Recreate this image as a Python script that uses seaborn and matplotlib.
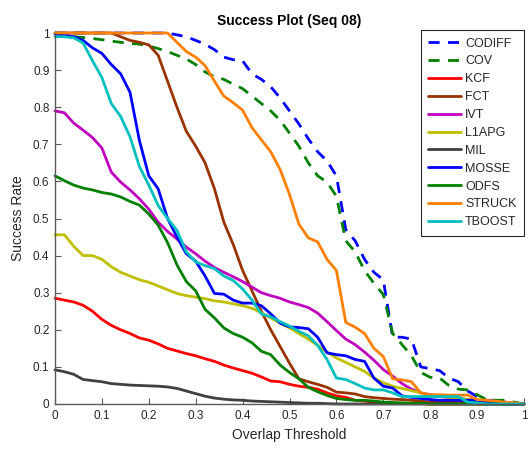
import numpy as np
import pandas as pd
import matplotlib
matplotlib.use("Agg")
import matplotlib.pyplot as plt
import seaborn as sns

# Overlap thresholds shared by every tracker
thresholds = [round(0.02 * i, 2) for i in range(51)]

codiff = [1.0, 1.0, 1.0, 1.0, 1.0, 1.0, 1.0, 1.0, 1.0, 1.0,
          1.0, 1.0, 1.0, 0.995, 0.99, 0.98, 0.97, 0.955, 0.935, 0.928,
          0.925, 0.89, 0.875, 0.855, 0.825, 0.79, 0.755, 0.715, 0.68, 0.655,
          0.615, 0.47, 0.44, 0.39, 0.355, 0.335, 0.18, 0.18, 0.175, 0.10,
          0.095, 0.09, 0.07, 0.06, 0.035, 0.02, 0.01, 0.01, 0.005, 0.0, 0.0]
cov = [1.0, 0.995, 0.99, 0.988, 0.985, 0.982, 0.978, 0.975, 0.972, 0.97,
       0.965, 0.958, 0.95, 0.94, 0.93, 0.915, 0.895, 0.882, 0.875, 0.862,
       0.85, 0.83, 0.81, 0.79, 0.765, 0.73, 0.695, 0.65, 0.615, 0.598,
       0.56, 0.44, 0.41, 0.36, 0.325, 0.295, 0.19, 0.16, 0.13, 0.085,
       0.072, 0.07, 0.05, 0.04, 0.038, 0.025, 0.012, 0.01, 0.01, 0.005, 0.0]
kcf = [0.285, 0.28, 0.275, 0.266, 0.25, 0.228, 0.212, 0.2, 0.19, 0.178,
       0.172, 0.162, 0.15, 0.143, 0.136, 0.13, 0.122, 0.115, 0.105, 0.097,
       0.09, 0.083, 0.073, 0.062, 0.06, 0.053, 0.048, 0.045, 0.04, 0.03,
       0.022, 0.018, 0.01, 0.008, 0.005, 0.003, 0.002, 0.002, 0.001, 0.001,
       0.0, 0.0, 0.0, 0.0, 0.0, 0.0, 0.0, 0.0, 0.0, 0.0, 0.0]
fct = [1.0, 1.0, 1.0, 1.0, 1.0, 1.0, 1.0, 0.99, 0.98, 0.975,
       0.968, 0.94, 0.87, 0.80, 0.735, 0.695, 0.65, 0.58, 0.49, 0.43,
       0.36, 0.305, 0.25, 0.20, 0.155, 0.11, 0.068, 0.06, 0.053, 0.045,
       0.032, 0.03, 0.027, 0.02, 0.017, 0.015, 0.013, 0.012, 0.01, 0.008,
       0.005, 0.005, 0.005, 0.005, 0.005, 0.004, 0.002, 0.0, 0.0, 0.0, 0.0]
ivt = [0.79, 0.785, 0.757, 0.738, 0.718, 0.69, 0.625, 0.598, 0.577, 0.553,
       0.525, 0.49, 0.465, 0.445, 0.423, 0.405, 0.385, 0.368, 0.355, 0.343,
       0.33, 0.315, 0.30, 0.292, 0.285, 0.275, 0.268, 0.26, 0.245, 0.222,
       0.198, 0.175, 0.16, 0.14, 0.118, 0.093, 0.075, 0.055, 0.04, 0.03,
       0.025, 0.02, 0.018, 0.015, 0.012, 0.01, 0.008, 0.005, 0.003, 0.002, 0.0]
l1apg = [0.456, 0.456, 0.425, 0.40, 0.40, 0.39, 0.37, 0.355, 0.345, 0.335,
         0.328, 0.318, 0.308, 0.298, 0.292, 0.288, 0.284, 0.278, 0.275, 0.27,
         0.265, 0.258, 0.246, 0.232, 0.218, 0.205, 0.19, 0.175, 0.158, 0.14,
         0.124, 0.112, 0.10, 0.088, 0.07, 0.057, 0.048, 0.042, 0.036, 0.03,
         0.022, 0.02, 0.018, 0.015, 0.012, 0.01, 0.008, 0.005, 0.003, 0.002, 0.0]
mil = [0.092, 0.087, 0.08, 0.066, 0.063, 0.06, 0.055, 0.053, 0.051, 0.05,
       0.049, 0.048, 0.046, 0.042, 0.035, 0.028, 0.021, 0.016, 0.013, 0.011,
       0.01, 0.008, 0.007, 0.006, 0.005, 0.004, 0.003, 0.002, 0.002, 0.001,
       0.0, 0.0, 0.0, 0.0, 0.0, 0.0, 0.0, 0.0, 0.0, 0.0,
       0.0, 0.0, 0.0, 0.0, 0.0, 0.0, 0.0, 0.0, 0.0, 0.0, 0.0]
mosse = [0.997, 0.995, 0.99, 0.98, 0.96, 0.945, 0.915, 0.89, 0.84, 0.71,
         0.615, 0.58, 0.50, 0.45, 0.405, 0.385, 0.345, 0.298, 0.296, 0.28,
         0.272, 0.272, 0.265, 0.243, 0.218, 0.208, 0.206, 0.203, 0.18, 0.138,
         0.133, 0.13, 0.12, 0.115, 0.07, 0.048, 0.043, 0.022, 0.018, 0.015,
         0.012, 0.01, 0.01, 0.01, 0.01, 0.01, 0.005, 0.003, 0.0, 0.0, 0.0]
odfs = [0.615, 0.602, 0.59, 0.582, 0.577, 0.57, 0.566, 0.558, 0.546, 0.536,
        0.512, 0.482, 0.435, 0.375, 0.33, 0.305, 0.255, 0.232, 0.205, 0.19,
        0.18, 0.165, 0.142, 0.133, 0.105, 0.085, 0.068, 0.045, 0.033, 0.023,
        0.015, 0.012, 0.01, 0.01, 0.008, 0.005, 0.004, 0.003, 0.002, 0.002,
        0.0, 0.0, 0.0, 0.0, 0.0, 0.0, 0.0, 0.0, 0.0, 0.0, 0.0]
struck = [1.0, 1.0, 1.0, 1.0, 1.0, 1.0, 1.0, 1.0, 1.0, 1.0,
          1.0, 1.0, 1.0, 0.975, 0.95, 0.935, 0.912, 0.87, 0.83, 0.812,
          0.792, 0.745, 0.712, 0.68, 0.632, 0.565, 0.485, 0.448, 0.437, 0.39,
          0.36, 0.22, 0.207, 0.19, 0.15, 0.128, 0.068, 0.065, 0.06, 0.03,
          0.025, 0.025, 0.024, 0.024, 0.024, 0.012, 0.01, 0.008, 0.005, 0.003, 0.0]
tboost = [0.99, 0.99, 0.987, 0.973, 0.925, 0.88, 0.81, 0.775, 0.72, 0.64,
          0.59, 0.535, 0.50, 0.468, 0.41, 0.383, 0.373, 0.365, 0.345, 0.333,
          0.31, 0.28, 0.243, 0.235, 0.222, 0.21, 0.196, 0.184, 0.158, 0.12,
          0.07, 0.066, 0.055, 0.043, 0.038, 0.038, 0.03, 0.02, 0.02, 0.02,
          0.02, 0.02, 0.02, 0.02, 0.005, 0.003, 0.0, 0.0, 0.0, 0.0, 0.0]

trackers = ["CODIFF", "COV", "KCF", "FCT", "IVT", "L1APG",
            "MIL", "MOSSE", "ODFS", "STRUCK", "TBOOST"]
series = [codiff, cov, kcf, fct, ivt, l1apg, mil, mosse, odfs, struck, tboost]
colors = ["#0000ff", "#008000", "#ff0000", "#993300", "#bf00bf", "#bfbf00",
          "#404040", "#0000ff", "#008000", "#ff8000", "#00bfbf"]
dashed = {"CODIFF", "COV"}

df = pd.DataFrame({
    "Overlap Threshold": np.tile(thresholds, len(trackers)),
    "Success Rate": np.concatenate(series),
    "Tracker": np.repeat(trackers, len(thresholds)),
})

sns.set_theme(style="white")
plt.rcParams["font.family"] = ["Liberation Sans", "DejaVu Sans"]

fig = plt.figure(figsize=(5.28, 4.51), dpi=100)
ax = fig.add_axes([55 / 528, 47 / 451, 469 / 528, 371 / 451])

for name, col in zip(trackers, colors):
    sub = df[df["Tracker"] == name]
    kw = dict(dashes=(4, 3)) if name in dashed else {}
    sns.lineplot(data=sub, x="Overlap Threshold", y="Success Rate", ax=ax,
                 color=col, linewidth=2.0, label=name, clip_on=False,
                 legend=False, **kw)

ax.set_xlim(0, 1)
ax.set_ylim(0, 1)
ax.set_xticks(np.arange(0, 1.01, 0.1))
ax.set_yticks(np.arange(0, 1.01, 0.1))
ax.set_xticklabels(["0", "0.1", "0.2", "0.3", "0.4", "0.5", "0.6", "0.7", "0.8", "0.9", "1"])
ax.set_yticklabels(["0", "0.1", "0.2", "0.3", "0.4", "0.5", "0.6", "0.7", "0.8", "0.9", "1"])

axis_gray = "#262626"
for side in ["top", "right"]:
    ax.spines[side].set_visible(False)
for side in ["left", "bottom"]:
    ax.spines[side].set_color("#5a5a5a")
    ax.spines[side].set_linewidth(1.0)
ax.tick_params(axis="both", direction="in", length=4, width=0.8,
               colors="#5a5a5a", labelcolor=axis_gray, labelsize=8.5, pad=4,
               left=True, bottom=True)

ax.set_xlabel("Overlap Threshold", fontsize=10, color=axis_gray, labelpad=5)
ax.set_ylabel("Success Rate", fontsize=10, color=axis_gray, labelpad=6)
ax.set_title("Success Plot (Seq 08)", fontsize=10, fontweight="bold",
             color="black", pad=6)

handles = ax.get_lines()
leg = ax.legend(handles, trackers, loc="upper right",
                bbox_to_anchor=(1.0, 1.008), fontsize=9, frameon=True,
                fancybox=False, edgecolor="#262626", framealpha=1,
                handlelength=2.6, handletextpad=0.35, labelspacing=0.47,
                borderpad=0.6, borderaxespad=0)
leg.get_frame().set_linewidth(0.8)

fig.savefig("out.png", dpi=100)
